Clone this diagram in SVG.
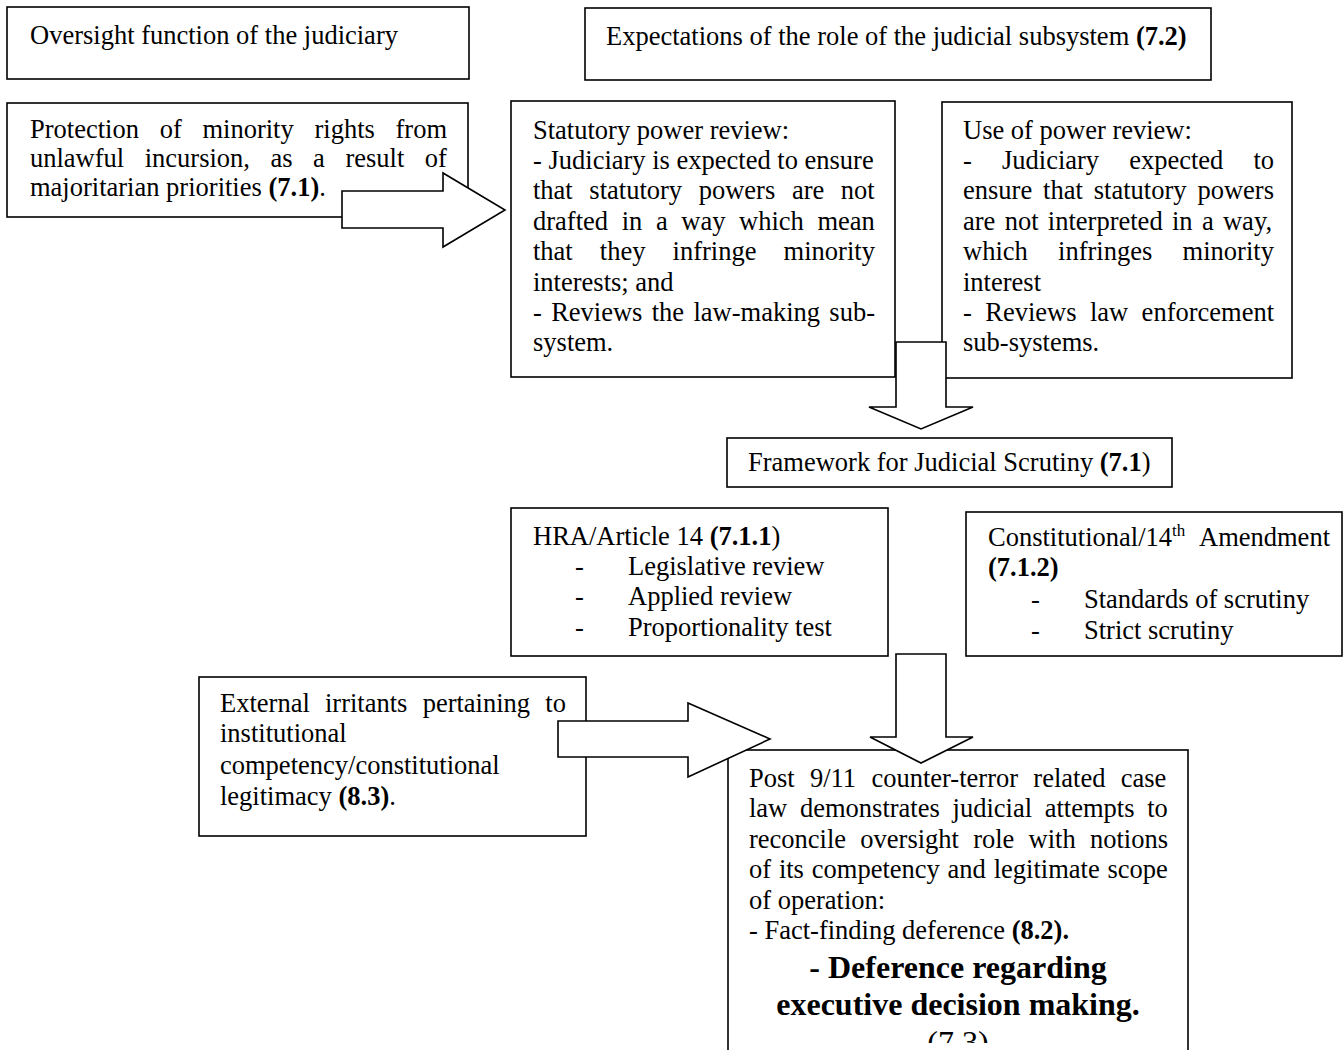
<svg xmlns="http://www.w3.org/2000/svg" width="1344" height="1050" viewBox="0 0 1344 1050">
<style>
.box{fill:#fff;stroke:#000;stroke-width:1.6}
.arr{fill:#fff;stroke:#000;stroke-width:1.6;stroke-linejoin:miter}
.t{font-family:"Liberation Serif","Times New Roman",serif;font-size:26.5px;fill:#000}
.b{font-weight:bold}
.big{font-family:"Liberation Serif","Times New Roman",serif;font-size:32px;fill:#000;text-anchor:middle}
</style>
<defs>
<clipPath id="postclip"><rect x="728" y="750" width="460" height="293"/></clipPath>
</defs>
<rect width="1344" height="1050" fill="#fff"/>

<g id="oversight">
<rect class="box" x="7" y="7" width="462" height="72"/>
<text class="t" x="30" y="44">Oversight function of the judiciary</text>
</g>

<g id="expectations">
<rect class="box" x="585" y="8" width="626" height="72"/>
<text class="t" x="606" y="45">Expectations of the role of the judicial subsystem <tspan class="b">(7.2)</tspan></text>
</g>

<g id="protection">
<rect class="box" x="7" y="103" width="461" height="114"/>
<text class="t" x="30" y="138" style="word-spacing:14.1px">Protection of minority rights from</text>
<text class="t" x="30" y="167" style="word-spacing:13.9px">unlawful incursion, as a result of</text>
<text class="t" x="30" y="195.5">majoritarian priorities <tspan class="b">(7.1)</tspan>.</text>
</g>

<g id="statutory">
<rect class="box" x="511" y="101" width="384" height="276"/>
<text class="t" x="533" y="138.5">Statutory power review:</text>
<text class="t" x="533" y="168.9">- Judiciary is expected to ensure</text>
<text class="t" x="533" y="199.3" style="word-spacing:10px">that statutory powers are not</text>
<text class="t" x="533" y="229.7" style="word-spacing:7px">drafted in a way which mean</text>
<text class="t" x="533" y="260.1" style="word-spacing:20.5px">that they infringe minority</text>
<text class="t" x="533" y="290.5">interests; and</text>
<text class="t" x="533" y="320.9" style="word-spacing:2.7px">- Reviews the law-making sub-</text>
<text class="t" x="533" y="351.3">system.</text>
</g>

<g id="use-of-power">
<rect class="box" x="942" y="102" width="350" height="276"/>
<text class="t" x="963" y="138.5">Use of power review:</text>
<text class="t" x="963" y="168.9" style="word-spacing:23.5px">- Judiciary expected to</text>
<text class="t" x="963" y="199.3" style="word-spacing:4.3px">ensure that statutory powers</text>
<text class="t" x="963" y="229.7" style="word-spacing:2.7px">are not interpreted in a way,</text>
<text class="t" x="963" y="260.1" style="word-spacing:23.7px">which infringes minority</text>
<text class="t" x="963" y="290.5">interest</text>
<text class="t" x="963" y="320.9" style="word-spacing:6.8px">- Reviews law enforcement</text>
<text class="t" x="963" y="351.3">sub-systems.</text>
</g>

<g id="framework">
<rect class="box" x="727" y="438" width="445" height="49"/>
<text class="t" x="748" y="471">Framework for Judicial Scrutiny <tspan class="b">(7.1</tspan>)</text>
</g>

<g id="hra">
<rect class="box" x="511" y="508" width="377" height="148"/>
<text class="t" x="533" y="544.5">HRA/Article 14 <tspan class="b">(7.1.1</tspan>)</text>
<text class="t" x="575" y="574.9">-</text>
<text class="t" x="628" y="574.9">Legislative review</text>
<text class="t" x="575" y="605.3">-</text>
<text class="t" x="628" y="605.3">Applied review</text>
<text class="t" x="575" y="635.7">-</text>
<text class="t" x="628" y="635.7">Proportionality test</text>
</g>

<g id="constitutional">
<rect class="box" x="966" y="512" width="376" height="144"/>
<text class="t" x="988" y="546">Constitutional/14<tspan font-size="17" dy="-10">th</tspan></text>
<text class="t" x="1330" y="546" text-anchor="end">Amendment</text>
<text class="t b" x="988" y="575.5">(7.1.2)</text>
<text class="t" x="1031" y="607.5">-</text>
<text class="t" x="1084" y="607.5">Standards of scrutiny</text>
<text class="t" x="1031" y="638.5">-</text>
<text class="t" x="1084" y="638.5">Strict scrutiny</text>
</g>

<g id="external">
<rect class="box" x="199" y="677" width="387" height="159"/>
<text class="t" x="220" y="712" style="word-spacing:8.6px">External irritants pertaining to</text>
<text class="t" x="220" y="742.4">institutional</text>
<text class="t" x="220" y="773.8">competency/constitutional</text>
<text class="t" x="220" y="805.2">legitimacy <tspan class="b">(8.3)</tspan>.</text>
</g>

<g id="post-911">
<rect class="box" x="728" y="750" width="460" height="320"/>
<g clip-path="url(#postclip)">
<text class="t" x="749" y="787" style="word-spacing:8.7px">Post 9/11 counter-terror related case</text>
<text class="t" x="749" y="817.4" style="word-spacing:6.1px">law demonstrates judicial attempts to</text>
<text class="t" x="749" y="847.8" style="word-spacing:7.6px">reconcile oversight role with notions</text>
<text class="t" x="749" y="878.2" style="word-spacing:1.2px">of its competency and legitimate scope</text>
<text class="t" x="749" y="908.6">of operation:</text>
<text class="t" x="749" y="939">- Fact-finding deference <tspan class="b">(8.2).</tspan></text>
<text class="big b" x="958" y="978">- Deference regarding</text>
<text class="big b" x="958" y="1015">executive decision making.</text>
<text class="big" x="958" y="1053">(7.3)</text>
</g>
</g>

<g id="connectors">
<path class="arr" d="M342,191 L443,191 L443,173 L505,210 L443,247 L443,228 L342,228 Z"/>
<path class="arr" d="M896,342 L946,342 L946,407 L973,407 L921,429 L869,407 L896,407 Z"/>
<path class="arr" d="M896,654 L946,654 L946,737 L973,737 L921,763 L870,737 L896,737 Z"/>
<path class="arr" d="M558,721 L688,721 L688,703 L770,739 L688,777 L688,757 L558,757 Z"/>
</g>
</svg>
